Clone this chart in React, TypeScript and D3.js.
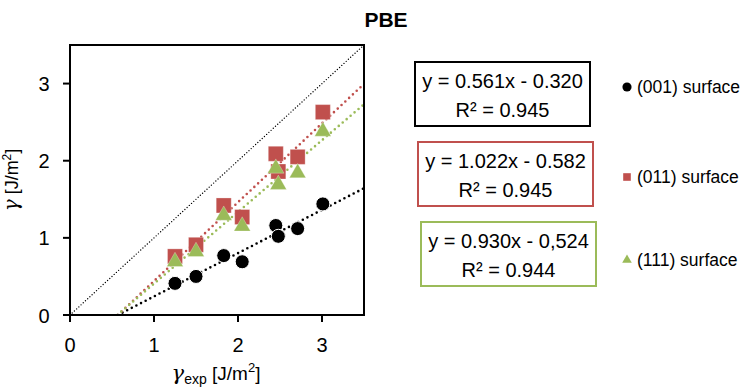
import React from "react";
import * as d3 from "d3";

// experimental surface energies (x) and PBE values for each facet
const xExp = [1.25, 1.5, 1.83, 2.05, 2.45, 2.48, 2.71, 3.01];
const gamma001 = [0.41, 0.5, 0.77, 0.69, 1.16, 1.02, 1.12, 1.44];
const gamma011 = [0.76, 0.91, 1.42, 1.27, 2.09, 1.86, 2.05, 2.63];
const gamma111 = [0.69, 0.82, 1.29, 1.15, 1.9, 1.69, 1.84, 2.38];

const seriesNames = ["(001) surface", "(011) surface", "(111) surface"];
const slopes = [0.561, 1.022, 0.93];
const intercepts = [-0.32, -0.582, -0.524];
const equations = ["y = 0.561x - 0.320", "y = 1.022x - 0.582", "y = 0.930x - 0,524"];
const rSquared = ["R² = 0.945", "R² = 0.945", "R² = 0.944"];
const tickValues = [0, 1, 2, 3];

const W = 743;
const H = 387;
const margin = { top: 45, right: 379, bottom: 72, left: 70 };
const colors = ["#000000", "#C0504D", "#9BBB59"];
const FONT = "'Liberation Sans', Arial, sans-serif";

const App = () => {
  const x = d3.scaleLinear().domain([0, 3.5]).range([margin.left, W - margin.right]);
  const y = d3.scaleLinear().domain([0, 3.5]).range([H - margin.bottom, margin.top]);

  const series = [gamma001, gamma011, gamma111];
  const bigSymbols = [
    d3.symbol().type(d3.symbolCircle).size(155)(),
    d3.symbol().type(d3.symbolSquare).size(225)(),
    d3.symbol().type(d3.symbolTriangle).size(118)(),
  ];
  const smallSymbols = [
    d3.symbol().type(d3.symbolCircle).size(66)(),
    d3.symbol().type(d3.symbolSquare).size(58)(),
    d3.symbol().type(d3.symbolTriangle).size(40)(),
  ];

  const line = d3.line<[number, number]>().x(d => x(d[0])).y(d => y(d[1]));
  const xMax = x.domain()[1];

  const legendY = [87, 177, 260];

  return (
    <svg width={W} height={H} style={{ position: "fixed", left: 0, top: 0, background: "#fff" }} fontFamily={FONT}>
      <defs>
        <clipPath id="plot">
          <rect x={margin.left} y={margin.top} width={x(xMax) - margin.left} height={y(0) - margin.top} />
        </clipPath>
      </defs>

      {/* title */}
      <text x={386} y={27} textAnchor="middle" fontSize={21} fontWeight="bold">PBE</text>

      {/* y = x reference line */}
      <path
        d={line([[0, 0], [xMax, xMax]]) || ""}
        stroke="#000"
        strokeWidth={1.4}
        strokeDasharray="0 3"
        strokeLinecap="round"
        fill="none"
        clipPath="url(#plot)"
      />

      {/* trend lines */}
      {slopes.map((m, i) => {
        const x0 = -intercepts[i] / m;
        return (
          <path
            key={"t" + i}
            d={line([[x0, 0], [xMax, m * xMax + intercepts[i]]]) || ""}
            stroke={colors[i]}
            strokeWidth={2.6}
            strokeDasharray="0 5.2"
            strokeLinecap="round"
            fill="none"
            clipPath="url(#plot)"
          />
        );
      })}

      {/* markers */}
      {series.map((vals, i) => (
        <g key={"s" + i}>
          {vals.map((v, j) => (
            <path
              key={j}
              d={bigSymbols[i] || ""}
              transform={`translate(${x(xExp[j])},${y(v)})`}
              fill={colors[i]}
              stroke={i === 0 ? "#fff" : "rgba(255,255,255,0.35)"}
              strokeWidth={i === 0 ? 1 : 0.8}
            />
          ))}
        </g>
      ))}

      {/* frame */}
      <rect
        x={margin.left}
        y={margin.top}
        width={x(xMax) - margin.left}
        height={y(0) - margin.top}
        fill="none"
        stroke="#000"
        strokeWidth={2}
      />

      {/* x ticks */}
      {tickValues.map(t => (
        <g key={"xt" + t}>
          <line x1={x(t)} x2={x(t)} y1={y(0)} y2={y(0) + 7} stroke="#000" strokeWidth={2} />
          <text x={x(t)} y={y(0) + 37} textAnchor="middle" fontSize={20}>{t}</text>
        </g>
      ))}
      {/* y ticks */}
      {tickValues.map(t => (
        <g key={"yt" + t}>
          <line x1={margin.left - 7} x2={margin.left} y1={y(t)} y2={y(t)} stroke="#000" strokeWidth={2} />
          <text x={margin.left - 26} y={y(t) + 7.5} textAnchor="middle" fontSize={20}>{t}</text>
        </g>
      ))}

      {/* axis titles */}
      <text x={216} y={380} textAnchor="middle" fontSize={19}>
        <tspan fontStyle="italic" fontSize={21} fontFamily="'DejaVu Serif', serif">γ</tspan>
        <tspan fontSize={14} dy={4}>exp</tspan>
        <tspan dy={-4}> [J/m</tspan>
        <tspan fontSize={13} dy={-8}>2</tspan>
        <tspan dy={8}>]</tspan>
      </text>
      <text transform="translate(18,180) rotate(-90)" textAnchor="middle" fontSize={18}>
        <tspan fontStyle="italic" fontSize={20} fontFamily="'DejaVu Serif', serif">γ</tspan>
        <tspan> [J/m</tspan>
        <tspan fontSize={12} dy={-7}>2</tspan>
        <tspan dy={7}>]</tspan>
      </text>

      {/* equation boxes */}
      {equations.map((eq, i) => {
        const bx = 415 + 3 * i;
        const by = 62 + 80 * i;
        return (
          <g key={"b" + i}>
            <rect x={bx} y={by} width={175} height={64} fill="#fff" stroke={colors[i]} strokeWidth={2} />
            <text x={bx + 87.5} y={by + 26} textAnchor="middle" fontSize={20}>{eq}</text>
            <text x={bx + 87.5} y={by + 55} textAnchor="middle" fontSize={20}>{rSquared[i]}</text>
          </g>
        );
      })}

      {/* legend */}
      {seriesNames.map((name, i) => (
        <g key={"l" + i} transform={`translate(627,${legendY[i]})`}>
          <path d={smallSymbols[i] || ""} fill={colors[i]} />
          <text x={10} y={6} fontSize={17.5}>{name}</text>
        </g>
      ))}
    </svg>
  );
};

export default App;
